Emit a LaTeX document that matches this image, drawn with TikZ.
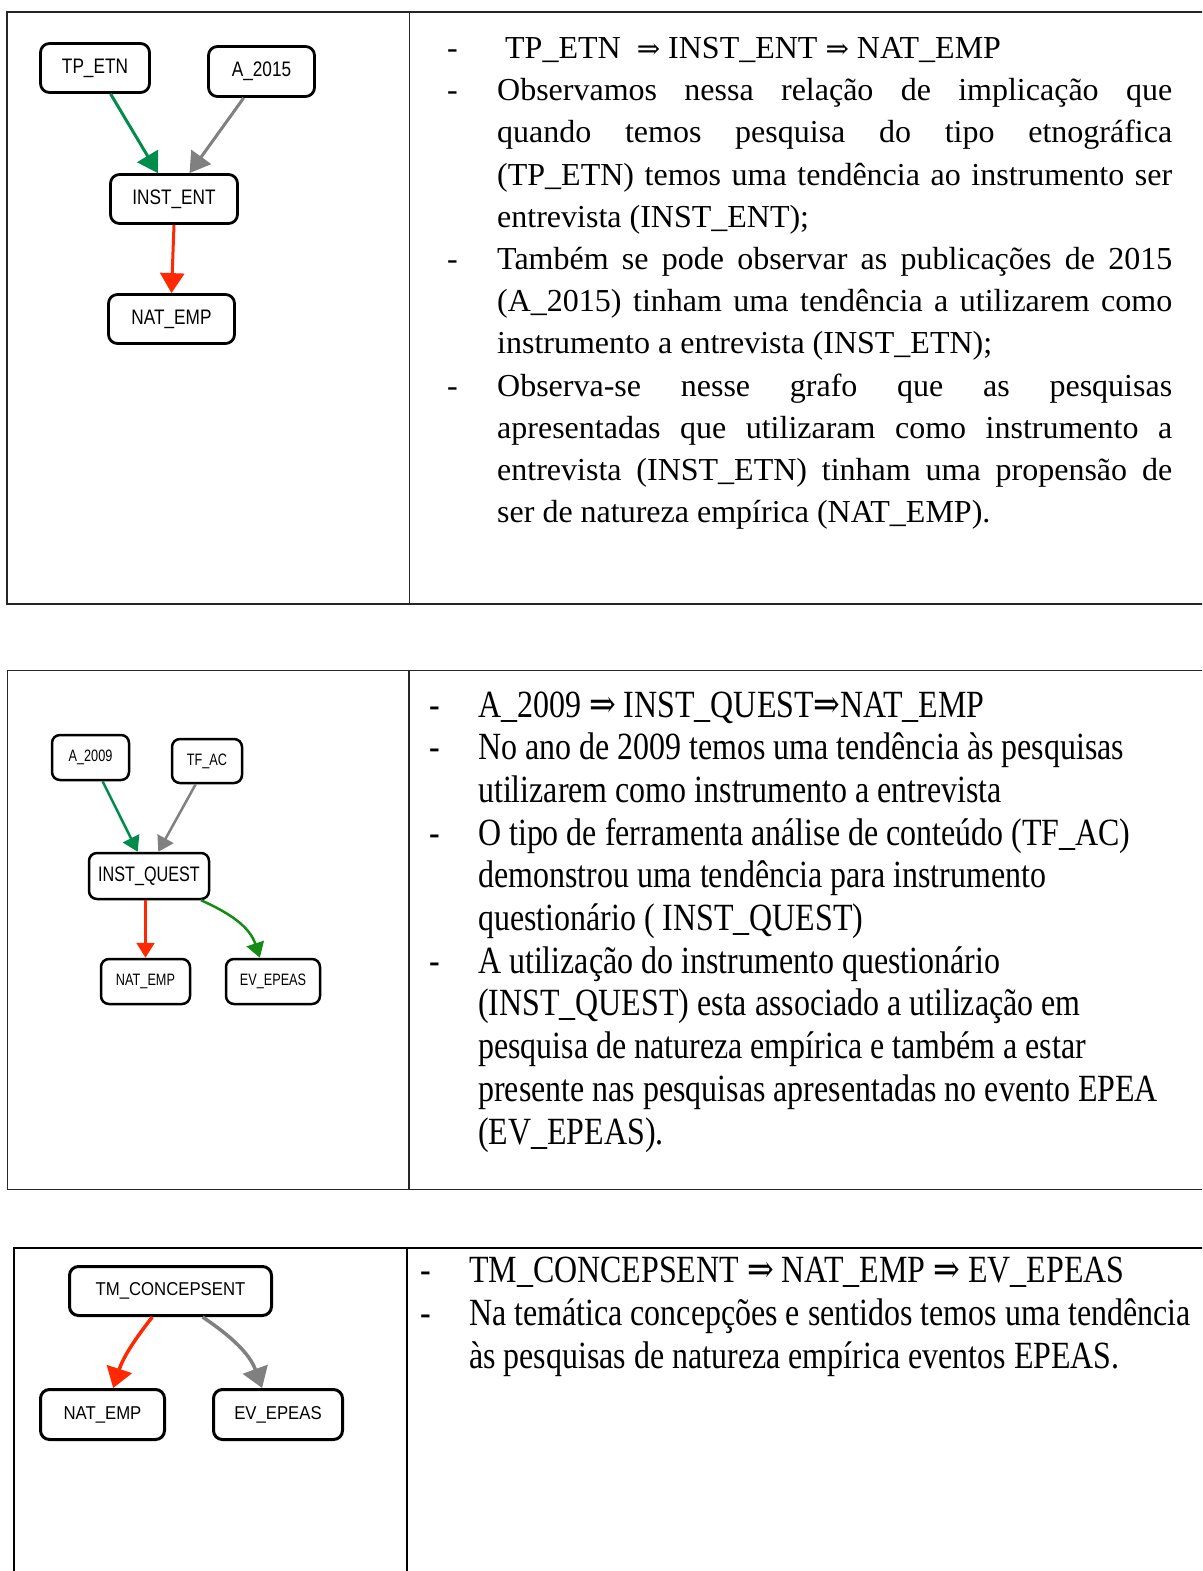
\documentclass[tikz,border=0pt]{standalone}
\usepackage{fontspec}
\setmainfont{Liberation Serif}
\newfontfamily\tallserif[FakeStretch=0.83]{Liberation Serif}
\newfontfamily\arrowfont{DejaVu Serif}
\newfontfamily\arrowfontc[FakeStretch=0.83]{DejaVu Serif}
\newfontfamily\boxsans[FakeStretch=0.82]{Liberation Sans}
\newfontfamily\boxsansnarrow[FakeStretch=0.77]{Liberation Sans}
\newfontfamily\boxsanswide[FakeStretch=0.9]{Liberation Sans}
\usetikzlibrary{arrows.meta,calc}

\definecolor{edgegreen}{RGB}{0,140,75}
\definecolor{curvegreen}{RGB}{20,140,20}
\definecolor{edgegray}{RGB}{128,128,128}
\definecolor{edgered}{RGB}{255,40,0}

\tolerance=10000
\hyphenpenalty=10000
\exhyphenpenalty=10000
\setlength{\parindent}{0pt}

\newcommand{\hangdash}[1]{\noindent\hspace*{-#1}\makebox[#1][l]{-}}
\newcommand{\imparrow}{{\arrowfont\fontsize{28}{28}\selectfont ⇒}}
\newcommand{\imparrowc}{{\arrowfontc ⇒}}

\tikzset{
  frame/.style={line width=1.5pt, black!85},
  box/.style={draw, fill=white, rounded corners=9pt, line width=2.8pt, inner sep=0pt},
  edgeA/.style={line width=3pt, -{Triangle[length=20pt,width=24pt]}},
  edgeB/.style={line width=2.5pt, -{Triangle[length=15pt,width=18pt]}},
  edgeC/.style={line width=3.5pt, -{Triangle[length=20pt,width=26pt]}},
  notesA/.style={anchor=base west, inner sep=0pt, text width=675pt, align=justify,
    font=\fontsize{32}{42.2}\selectfont},
  notesB/.style={anchor=base west, inner sep=0pt, text width=760pt, align=flush left,
    font=\tallserif\fontsize{38.5}{42.7}\selectfont}
}

\begin{document}
\begin{tikzpicture}[x=1pt,y=1pt]
\useasboundingbox (0,0) rectangle (1202,-1571);
\clip (0,0) rectangle (1202,-1571);

%%%%%%%%%%%%%%%%%%%%%%%%%%%%%%%%%%%%%%%% table 1
\draw[frame] (1230,-12) -- (7,-12) -- (7,-604) -- (1230,-604);
\draw[frame] (409.5,-12) -- (409.5,-604); %middle rule

\node[box, minimum width=109pt, minimum height=49pt, font=\boxsans\fontsize{21}{21}\selectfont] (tpetn) at (95,-68) {TP\_ETN};
\node[box, minimum width=106pt, minimum height=50pt, font=\boxsans\fontsize{21}{21}\selectfont] (a2015) at (261.5,-71.5) {A\_2015};
\node[box, minimum width=127pt, minimum height=49pt, font=\boxsans\fontsize{21}{21}\selectfont] (instent) at (174,-199) {INST\_ENT};
\node[box, minimum width=126pt, minimum height=49pt, font=\boxsans\fontsize{21}{21}\selectfont] (natemp) at (171.5,-319) {NAT\_EMP};

\draw[edgeA, edgegreen] (tpetn.-59) -- (instent.122);
\draw[edgeA, edgegray] (a2015.236) -- (instent.59);
\draw[edgeA, edgered] (instent.south) -- (natemp.north);

\node[notesA] (notesA) at (497,-58.5) {%
\hangdash{50pt}\hspace*{8pt}TP\_ETN\ \ \imparrow{} INST\_ENT \imparrow{} NAT\_EMP\par
\hangdash{50pt}Observamos nessa relação de implicação que\linebreak
quando temos pesquisa do tipo etnográfica\linebreak
(TP\_ETN) temos uma tendência ao instrumento ser\linebreak
entrevista (INST\_ENT);\par
\hangdash{50pt}Também se pode observar as publicações de 2015\linebreak
(A\_2015) tinham uma tendência a utilizarem como\linebreak
instrumento a entrevista (INST\_ETN);\par
\hangdash{50pt}Observa-se nesse grafo que as pesquisas\linebreak
apresentadas que utilizaram como instrumento a\linebreak
entrevista (INST\_ETN) tinham uma propensão de\linebreak
ser de natureza empírica (NAT\_EMP).};

%%%%%%%%%%%%%%%%%%%%%%%%%%%%%%%%%%%%%%%% table 2
\draw[frame] (1230,-670.5) -- (7.5,-670.5) -- (7.5,-1189.5) -- (1230,-1189.5);
\draw[frame] (409,-670.5) -- (409,-1189.5); %middle rule

\node[box, rounded corners=8pt, line width=2.5pt, minimum width=77pt, minimum height=45pt, font=\boxsansnarrow\fontsize{16.5}{16.5}\selectfont] (a2009) at (90.5,-757.5) {A\_2009};
\node[box, rounded corners=8pt, line width=2.5pt, minimum width=70pt, minimum height=44pt, font=\boxsansnarrow\fontsize{16.5}{16.5}\selectfont] (tfac) at (207,-761) {TF\_AC};
\node[box, rounded corners=8pt, line width=2.5pt, minimum width=120pt, minimum height=46pt, font=\boxsansnarrow\fontsize{21}{21}\selectfont] (instquest) at (149,-876) {INST\_QUEST};
\node[box, rounded corners=8pt, line width=2.5pt, minimum width=89pt, minimum height=45pt, font=\boxsansnarrow\fontsize{16.5}{16.5}\selectfont] (natempB) at (145.5,-981.5) {NAT\_EMP};
\node[box, rounded corners=8pt, line width=2.5pt, minimum width=94pt, minimum height=45pt, font=\boxsansnarrow\fontsize{16.5}{16.5}\selectfont] (evepeasB) at (273,-981.5) {EV\_EPEAS};

\draw[edgeB, edgegreen] (a2009.-63) -- (instquest.115);
\draw[edgeB, edgegray] (tfac.244) -- (instquest.69);
\draw[edgeB, edgered] (natempB.north |- instquest.south) -- (natempB.north);
\draw[edgeB, curvegreen] (instquest.-25) to[out=-24, in=108] (evepeasB.119);

\node[notesB] (notesB) at (478,-717) {%
\hangdash{49pt}A\_2009 \imparrowc{} INST\_QUEST\imparrowc{}NAT\_EMP\par
\hangdash{49pt}No ano de 2009 temos uma tendência às pesquisas\newline
utilizarem como instrumento a entrevista\par
\hangdash{49pt}O tipo de ferramenta análise de conteúdo (TF\_AC)\newline
demonstrou uma tendência para instrumento\newline
questionário ( INST\_QUEST)\par
\hangdash{49pt}A utilização do instrumento questionário\newline
(INST\_QUEST) esta associado a utilização em\newline
pesquisa de natureza empírica e também a estar\newline
presente nas pesquisas apresentadas no evento EPEA\newline
(EV\_EPEAS).};

%%%%%%%%%%%%%%%%%%%%%%%%%%%%%%%%%%%%%%%% table 3
\draw[frame, line width=2pt, black] (1230,-1248) -- (13.5,-1248) -- (13.5,-1600);
\draw[frame, line width=2pt, black] (406.5,-1248) -- (406.5,-1600); %middle rule

\node[box, line width=3pt, minimum width=202pt, minimum height=49pt, font=\boxsanswide\fontsize{18.6}{18.6}\selectfont] (tmconc) at (170.5,-1291) {TM\_CONCEPSENT};
\node[box, line width=3pt, minimum width=124pt, minimum height=50pt, font=\boxsanswide\fontsize{18.6}{18.6}\selectfont] (natempC) at (102.5,-1414.5) {NAT\_EMP};
\node[box, line width=3pt, minimum width=129pt, minimum height=50pt, font=\boxsanswide\fontsize{18.6}{18.6}\selectfont] (evepeasC) at (278,-1414.5) {EV\_EPEAS};

\draw[edgeC, edgered] (tmconc.235) to[out=-128, in=72] (natempC.68);
\draw[edgeC, edgegray] (tmconc.-39.5) to[out=-34, in=110] (evepeasC.121);

\node[notesB, font=\tallserif\fontsize{38.5}{43}\selectfont] (notesC) at (469,-1282.5) {%
\hangdash{49pt}TM\_CONCEPSENT \imparrowc{} NAT\_EMP \imparrowc{} EV\_EPEAS\par
\hangdash{49pt}Na temática concepções e sentidos temos uma tendência\newline
às pesquisas de natureza empírica eventos EPEAS.};
\end{tikzpicture}
\end{document}
